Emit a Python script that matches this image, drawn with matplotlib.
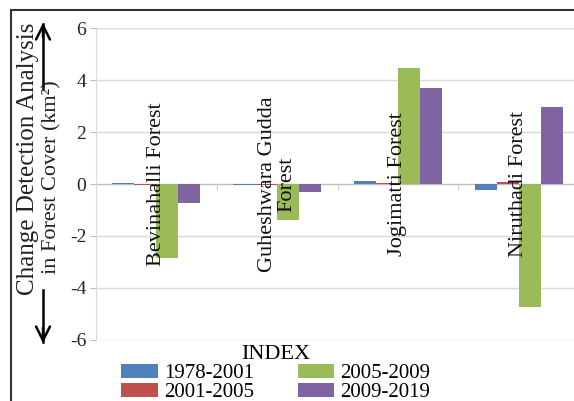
import numpy as np
import matplotlib
matplotlib.use('Agg')
import matplotlib.pyplot as plt
from matplotlib.patches import Rectangle

plt.rcParams['font.family'] = ['Liberation Serif', 'DejaVu Serif']
plt.rcParams['axes.unicode_minus'] = False

forests = ['Bevinahalli Forest', 'Guheshwara Gudda\nForest', 'Jogimatti Forest', 'Niruthadi Forest']
periods = ['1978-2001', '2001-2005', '2005-2009', '2009-2019']
v1978_2001 = [0.05, -0.02, 0.13, -0.22]
v2001_2005 = [-0.02, -0.02, 0.02, 0.07]
v2005_2009 = [-2.85, -1.38, 4.46, -4.72]
v2009_2019 = [-0.74, -0.31, 3.69, 2.97]
colors = ['#4F81BD', '#C0504D', '#9BBB59', '#8064A2']

fig = plt.figure(figsize=(5.74, 4.01), dpi=100)
ax = fig.add_axes([96/574, 61/401, 483/574, 312/401])

x = np.arange(len(forests))
w = 0.182
series = [v1978_2001, v2001_2005, v2005_2009, v2009_2019]
for i, (vals, lab, c) in enumerate(zip(series, periods, colors)):
    ax.bar(x + (i - 1.5) * w, vals, w, color=c, label=lab, zorder=3)

ax.set_xlim(-0.5, 3.5)
ax.set_ylim(-6, 6)
ax.set_yticks([-6, -4, -2, 0, 2, 4, 6])
ax.yaxis.grid(True, color='#d9d9d9', lw=1, zorder=0)
ax.tick_params(axis='y', labelsize=14, length=4, color='#bfbfbf', pad=3, labelcolor='#222222')

# horizontal axis on zero line
for s in ['top', 'right']:
    ax.spines[s].set_visible(False)
ax.spines['left'].set_color('#d9d9d9')
ax.spines['bottom'].set_position(('data', 0))
ax.spines['bottom'].set_color('#bfbfbf')
ax.spines['bottom'].set_zorder(2)
ax.set_xticks([0.5, 1.5, 2.5])
ax.set_xticklabels([])
ax.tick_params(axis='x', direction='out', length=4, color='#d0d0d0')

for xi, name in zip(x, forests):
    ax.text(xi, 0, name, rotation=90, ha='center', va='center', fontsize=16,
            color='#111111', zorder=5, linespacing=1.0)

# y label (two lines) with arrows
fig.text(28/574, 1 - 159/401, 'Change Detection Analysis', rotation=90,
         ha='center', va='center', fontsize=18, color='#222222')
fig.text(52/574, 1 - 177/401, 'in Forest Cover (km²)', rotation=90,
         ha='center', va='center', fontsize=16, color='#222222')
fig.add_artist(plt.Line2D([43/574, 43/574], [1 - 88/401, 1 - 24/401], color='black', lw=1.8))
fig.add_artist(plt.Line2D([43/574, 43/574], [1 - 290/401, 1 - 342/401], color='black', lw=1.8))
ax.annotate('', xy=(43/574, 1 - 20/401), xytext=(43/574, 1 - 40/401), xycoords='figure fraction',
            arrowprops=dict(arrowstyle='->', lw=1.8, color='black', mutation_scale=25))
ax.annotate('', xy=(43/574, 1 - 346/401), xytext=(43/574, 1 - 325/401), xycoords='figure fraction',
            arrowprops=dict(arrowstyle='->', lw=1.8, color='black', mutation_scale=25))

leg = fig.legend(loc='upper center', bbox_to_anchor=(276/574, 1 - 335/401), ncol=2,
                 frameon=False, fontsize=15, title='INDEX', title_fontsize=16,
                 handlelength=1.75, handleheight=0.6, handletextpad=0.3,
                 columnspacing=2.1, labelspacing=0.0, borderpad=0.0)
leg._legend_box.sep = 0

fig.add_artist(Rectangle((11/574, -0.1), 1.2, 1.1 - 10/401, transform=fig.transFigure,
                         fill=False, ec='#333333', lw=1.5))

fig.savefig('out.png', dpi=100)
